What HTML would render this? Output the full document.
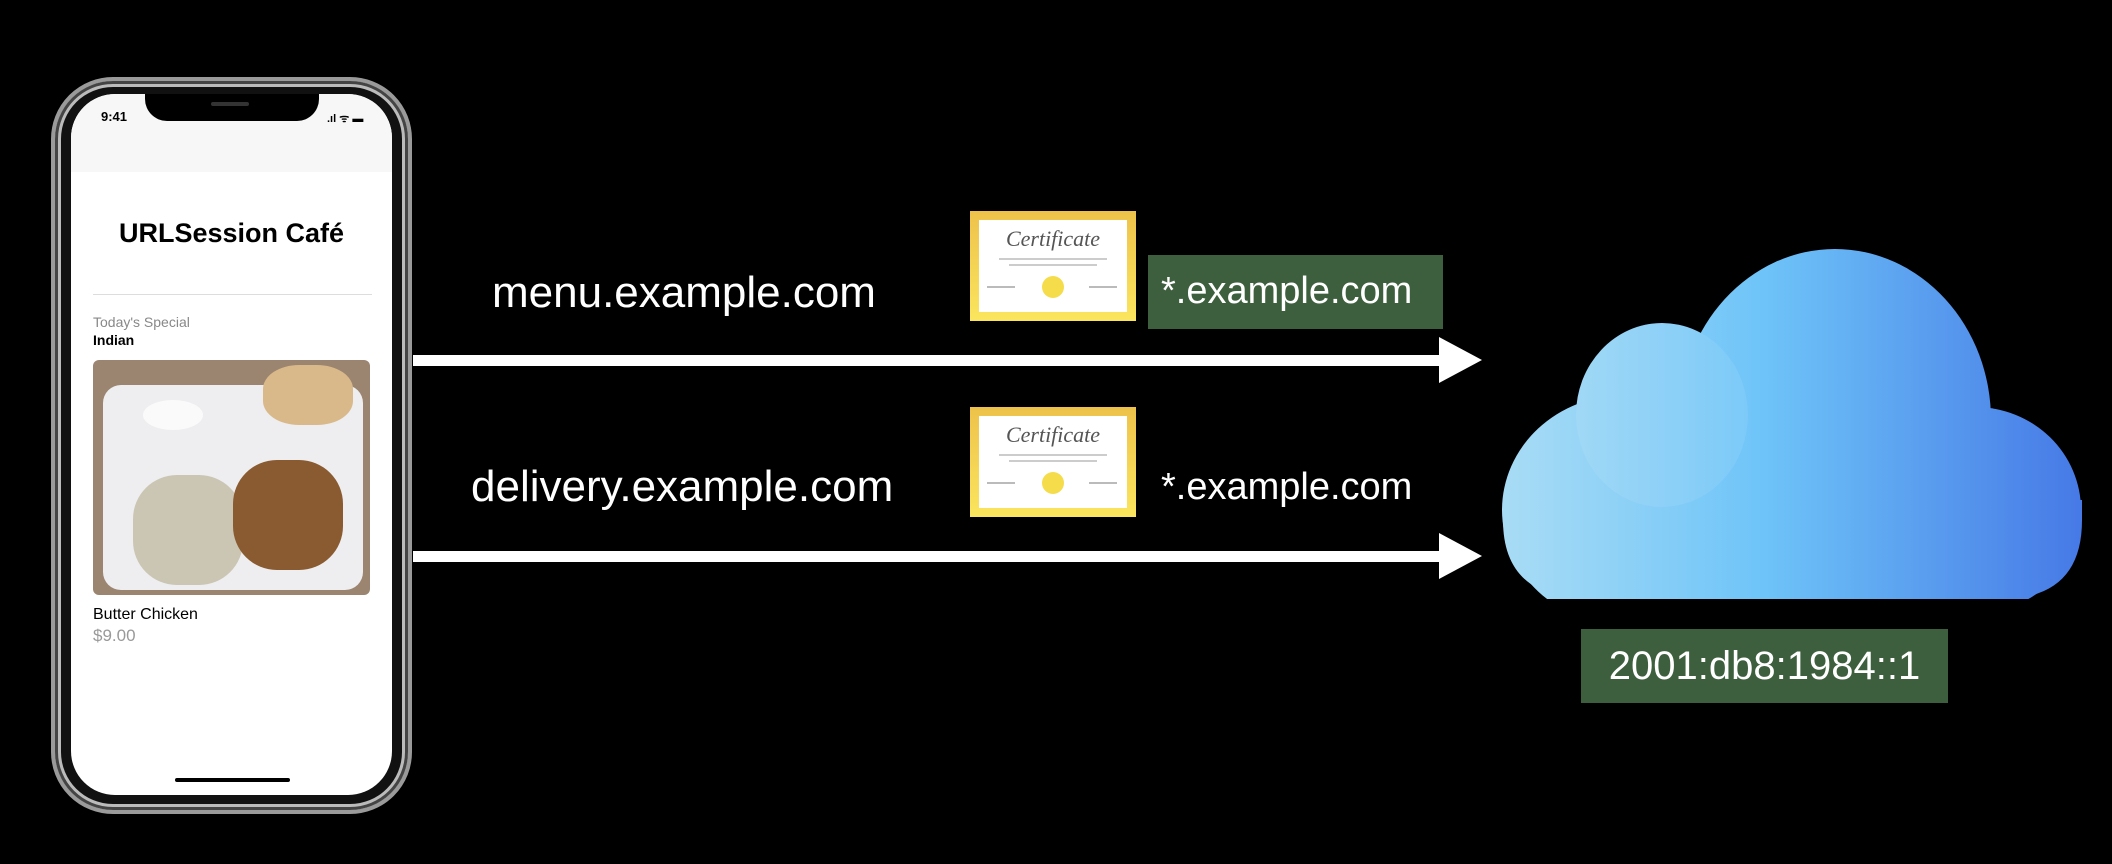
<!DOCTYPE html>
<html><head><meta charset="utf-8"><style>
body{margin:0;width:2112px;height:864px;background:#000;overflow:hidden;position:relative;font-family:"Liberation Sans",sans-serif}
.a{position:absolute}
.cert{position:absolute;width:166px;height:110px;background:linear-gradient(#eec24a,#fbe55e);}
.cert .in{position:absolute;left:9px;top:9px;right:9px;bottom:9px;background:#fff}
.lbl{position:absolute;color:#fff;font-size:44px;white-space:nowrap}
</style></head><body>
<!-- phone -->
<div class="a" style="left:51px;top:77px;width:361px;height:737px;border-radius:62px;background:#111;border:4px solid #9a9a9a;box-sizing:border-box;box-shadow:inset 0 0 0 3px #444,inset 0 0 0 6px #bbb"></div>
<div class="a" style="left:71px;top:94px;width:321px;height:701px;border-radius:44px;background:#fff;overflow:hidden">
  <div class="a" style="left:0;top:0;width:321px;height:78px;background:#f7f7f7"></div>
  <div class="a" style="left:74px;top:-2px;width:174px;height:29px;background:#000;border-radius:0 0 22px 22px"></div>
  <div class="a" style="left:140px;top:8px;width:38px;height:4px;background:#333;border-radius:2px"></div>
  <div class="a" style="left:30px;top:15px;font-size:13px;font-weight:bold">9:41</div>
  <div class="a" style="left:256px;top:17px;font-size:11px;font-weight:bold">.ıl ᯤ ▬</div>
  <div class="a" style="left:0;width:321px;top:124px;text-align:center;font-size:27px;font-weight:bold">URLSession Café</div>
  <div class="a" style="left:22px;top:200px;width:279px;height:1px;background:#ddd"></div>
  <div class="a" style="left:22px;top:220px;font-size:14px;color:#888">Today's Special</div>
  <div class="a" style="left:22px;top:238px;font-size:14px;font-weight:bold">Indian</div>
  <div class="a" style="left:22px;top:266px;width:277px;height:235px;border-radius:6px;background:#9b8570;overflow:hidden">
    <div class="a" style="left:10px;top:25px;width:260px;height:205px;background:#eeeef0;border-radius:18px"></div>
    <div class="a" style="left:40px;top:115px;width:110px;height:110px;background:#cbc6b4;border-radius:40%"></div>
    <div class="a" style="left:140px;top:100px;width:110px;height:110px;background:#8a5a30;border-radius:40%"></div>
    <div class="a" style="left:170px;top:5px;width:90px;height:60px;background:#d9b98a;border-radius:40%"></div>
    <div class="a" style="left:50px;top:40px;width:60px;height:30px;background:#fafafa;border-radius:50%"></div>
  </div>
  <div class="a" style="left:22px;top:512px;font-size:16px">Butter Chicken</div>
  <div class="a" style="left:22px;top:532px;font-size:17px;color:#999">$9.00</div>
  <div class="a" style="left:104px;top:684px;width:115px;height:4px;background:#000;border-radius:2px"></div>
</div>
<!-- arrows + cloud -->
<svg class="a" style="left:0;top:0" width="2112" height="864">
<rect x="413" y="355" width="1030" height="11" fill="#fff"/>
<polygon points="1439,337 1482,360 1439,383" fill="#fff"/>
<rect x="413" y="551" width="1030" height="11" fill="#fff"/>
<polygon points="1439,533 1482,556 1439,579" fill="#fff"/>
<defs>
<linearGradient id="g" gradientUnits="userSpaceOnUse" x1="1502" y1="0" x2="2082" y2="0">
<stop offset="0" stop-color="#a9dcf5"/><stop offset="0.45" stop-color="#6ec4f8"/><stop offset="1" stop-color="#4679e6"/></linearGradient>
<clipPath id="c"><rect x="1400" y="0" width="712" height="599"/></clipPath>
</defs>
<g fill="url(#g)" clip-path="url(#c)">
<ellipse cx="1835" cy="420" rx="156" ry="171"/>
<ellipse cx="1662" cy="415" rx="86" ry="92"/>
<ellipse cx="1625" cy="510" rx="123" ry="115"/>
<ellipse cx="1975" cy="510" rx="106" ry="103"/>
<path d="M1503 500 L2082 500 L2082 520 Q2082 599 2000 599 L1590 599 Q1503 599 1503 520 Z"/>
</g>
<ellipse cx="1662" cy="415" rx="86" ry="92" fill="#fff" opacity="0.08"/>
</svg>
<!-- labels -->
<div class="lbl" style="left:492px;top:268px">menu.example.com</div>
<div class="lbl" style="left:471px;top:462px">delivery.example.com</div>
<div class="a" style="left:1148px;top:255px;width:295px;height:74px;background:#3e5f3e"></div>
<div class="lbl" style="left:1161px;top:270px;font-size:38px">*.example.com</div>
<div class="lbl" style="left:1161px;top:466px;font-size:38px">*.example.com</div>
<div class="a" style="left:1581px;top:629px;width:367px;height:74px;background:#3e5f3e"></div>
<div class="lbl" style="left:1581px;width:367px;text-align:center;top:644px;font-size:40px">2001:db8:1984::1</div>
<!-- certs -->
<div class="cert" style="left:970px;top:211px"><div class="in">
<div class="a" style="left:0;right:0;top:6px;text-align:center;font-family:'Liberation Serif',serif;font-style:italic;font-size:22px;color:#555">Certificate</div>
<div class="a" style="left:20px;right:20px;top:38px;height:2px;background:#ccc"></div>
<div class="a" style="left:30px;right:30px;top:44px;height:2px;background:#ccc"></div>
<div class="a" style="left:63px;top:56px;width:22px;height:22px;border-radius:50%;background:#f5dc4a"></div>
<div class="a" style="left:8px;top:66px;width:28px;height:2px;background:#bbb"></div>
<div class="a" style="left:110px;top:66px;width:28px;height:2px;background:#bbb"></div>
</div></div>
<div class="cert" style="left:970px;top:407px"><div class="in">
<div class="a" style="left:0;right:0;top:6px;text-align:center;font-family:'Liberation Serif',serif;font-style:italic;font-size:22px;color:#555">Certificate</div>
<div class="a" style="left:20px;right:20px;top:38px;height:2px;background:#ccc"></div>
<div class="a" style="left:30px;right:30px;top:44px;height:2px;background:#ccc"></div>
<div class="a" style="left:63px;top:56px;width:22px;height:22px;border-radius:50%;background:#f5dc4a"></div>
<div class="a" style="left:8px;top:66px;width:28px;height:2px;background:#bbb"></div>
<div class="a" style="left:110px;top:66px;width:28px;height:2px;background:#bbb"></div>
</div></div>
</body></html>
